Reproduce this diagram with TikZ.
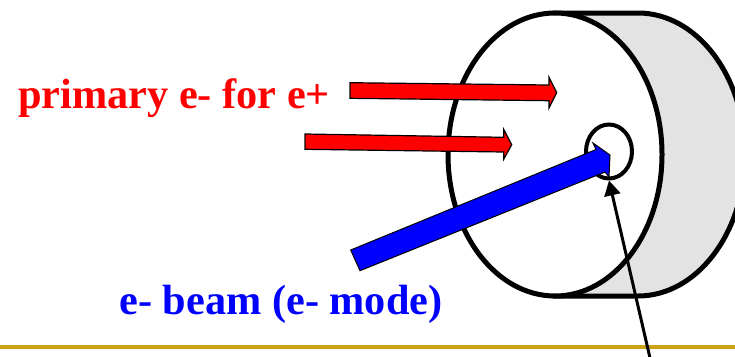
\documentclass[tikz,border=0pt]{standalone}
\usepackage{fontspec}
\setmainfont{Liberation Serif}
\usetikzlibrary{shapes.geometric,arrows.meta}
\definecolor{rulegold}{RGB}{204,161,20}
\definecolor{sidegrey}{RGB}{227,227,227}
\tikzset{
  disc/.style={line width=5pt,draw=black},
  redarrow/.style={fill=red,draw=black,line width=1.2pt,line join=miter},
  bluearrow/.style={fill=blue,draw=black,line width=1pt,line join=miter},
  caption/.style={font=\fontsize{42.3}{46}\selectfont\bfseries,anchor=base west,inner sep=0pt},
  holering/.style={ellipse,draw=black,line width=4pt,minimum width=46pt,minimum height=54pt,inner sep=0pt},
  pointer/.style={draw=black,line width=3pt,-{Triangle[length=15pt,width=16pt]}}
}
\begin{document}
\begin{tikzpicture}[x=1pt,y=-1pt]
\useasboundingbox (0,0) rectangle (735,356);
\clip (0,0) rectangle (735,356);
\fill[white] (0,0) rectangle (735,356);
% cylinder side
\draw[disc,fill=sidegrey] (555,13) -- (638,13) arc[start angle=-90,end angle=90,x radius=107,y radius=141.5] -- (555,296) -- cycle;
% front face
\draw[disc,fill=white] (555,154.5) ellipse[x radius=107,y radius=141.5];
% gold rule
\fill[rulegold] (0,345) rectangle (735,348.5);
% hole
\node[holering] (hole) at (609,151.5) {};
% arrows
\draw[redarrow] (350,82.7) -- (549,85) -- (549,77.3) -- (556.7,92.7) -- (549,108) -- (549,100.7) -- (350,98.3) -- cycle;
\draw[redarrow] (305,134) -- (503.7,137.3) -- (503.7,129.3) -- (511.7,144.7) -- (503.7,159.3) -- (503.7,152) -- (305,149.3) -- cycle;
\draw[bluearrow] (350.7,250) -- (596,149.5) -- (593,143) -- (610,155) -- (609,177) -- (605,172) -- (360,270.7) -- cycle;
% labels
\node[caption,text=red] (primary) at (18,108.5) {primary e- for e+};
\node[caption,text=blue] (beam) at (119.3,314.5) {e- beam (e- mode)};
% pointer
\coordinate (pointerfoot) at (650,358);
\draw[pointer] (pointerfoot) -- (hole.south);
\end{tikzpicture}
\end{document}
